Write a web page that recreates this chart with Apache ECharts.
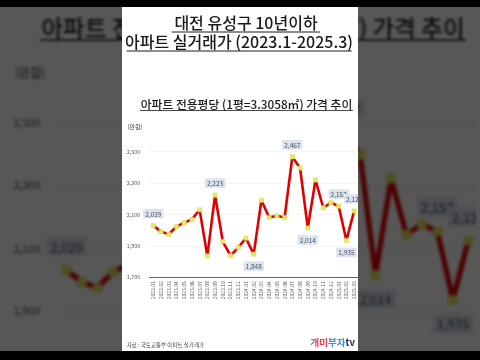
<!DOCTYPE html>
<html><head><meta charset="utf-8">
<script src="https://cdn.jsdelivr.net/npm/echarts@6/dist/echarts.min.js"></script>
<style>
html,body{margin:0;padding:0;width:480px;height:360px;overflow:hidden;background:#fff;}
#bg{position:absolute;left:122px;top:7px;width:236px;height:344px;transform:scale(2);transform-origin:118px 174px;filter:blur(0.6px);background:#fff;}
#dim{position:absolute;left:0;top:0;width:480px;height:360px;background:rgba(0,0,0,0.66);}
#fg{position:absolute;left:122px;top:7px;width:236px;height:344px;background:#fff;}
.bar{position:absolute;left:0;width:480px;background:#000;}
</style></head>
<body>
<div id="bg"></div><div id="dim"></div><div id="fg"></div>
<div class="bar" style="top:0;height:7px"></div>
<div class="bar" style="top:351px;height:9px"></div>
<script>
const categories = ['2023.01','2023.02','2023.03','2023.04','2023.05','2023.06','2023.07','2023.08','2023.09','2023.10','2023.11','2023.12',
  '2024.01','2024.02','2024.03','2024.04','2024.05','2024.06','2024.07','2024.08','2024.09','2024.10','2024.11','2024.12',
  '2025.01','2025.02','2025.03'];
const prices = [2029,1991,1974,2023,2048,2069,2130,1836,2223,1928,1838,1890,1949,1848,2191,2081,2092,2081,2467,2396,2014,2320,2143,2175,2153,1935,2123];
const labeledMonths = ['2023.01','2023.09','2024.02','2024.07','2024.09','2025.01','2025.02','2025.03'];
const labelBelowMonths = ['2024.02','2024.09','2025.02'];
const yTicks = [1700, 1900, 2100, 2300, 2500];

const titleLine1 = '대전 유성구 10년이하';
const titleLine2 = '아파트 실거래가 (2023.1-2025.3)';
const subTitle = '아파트 전용평당 (1평=3.3058㎡) 가격 추이';
const unitText = '(만원)';
const sourceText = '자료 : 국토교통부 아파트 실거래가';

const FONT = "'Noto Sans CJK KR','Noto Sans',sans-serif";
const fmt = v => Number(v).toLocaleString('en-US');
// label placement tweaks (style only)
const labelShift = { '2023.01': [7, -1], '2023.09': [9, 0], '2024.02': [7, 0], '2024.07': [4, 0], '2024.09': [5, 2], '2025.01': [-2, -8], '2025.02': [0, 2], '2025.03': [-7, 0] };

function buildOption() {
  const data = prices.map((v, i) => {
    const m = categories[i];
    if (labeledMonths.indexOf(m) < 0) return v;
    const below = labelBelowMonths.indexOf(m) >= 0;
    return { value: v, label: { show: true, position: below ? 'bottom' : 'top', distance: 5, offset: labelShift[m] || [0, 0] } };
  });
  return {
    animation: false,
    backgroundColor: '#ffffff',
    textStyle: { fontFamily: FONT },
    grid: { left: 27.4, right: 0, top: 144.7, bottom: 73.7, containLabel: false },
    xAxis: {
      type: 'category', data: categories, boundaryGap: true,
      axisLine: { lineStyle: { color: '#b8405e', width: 1 } },
      axisTick: { show: false },
      axisLabel: { rotate: 90, fontSize: 5, color: '#595959', margin: 4, interval: 0, fontFamily: FONT }
    },
    yAxis: {
      type: 'value', min: yTicks[0], max: yTicks[yTicks.length - 1], interval: yTicks[1] - yTicks[0],
      axisLine: { show: false }, axisTick: { show: false },
      splitLine: { lineStyle: { color: '#ececec', width: 0.6 } },
      axisLabel: { fontSize: 5.5, color: '#595959', margin: 9, formatter: fmt, fontFamily: FONT }
    },
    series: [{
      type: 'line', data: data,
      lineStyle: { color: '#e00000', width: 2.6 },
      symbol: 'rect', symbolSize: 4.2, showAllSymbol: true,
      itemStyle: { color: '#e9e863', borderColor: '#d4d44a', borderWidth: 0.5 },
      label: {
        show: false, formatter: p => fmt(p.value), fontSize: 6.5, color: '#44546a',
        backgroundColor: '#dde3ec', padding: [2, 2, 1, 2], fontFamily: FONT
      },
      labelLayout: { hideOverlap: false },
      z: 3
    }],
    graphic: { elements: [
      { type: 'text', x: 124, y: 15.8, style: { text: titleLine1, fontSize: 16, fontWeight: 500, fontFamily: FONT, fill: '#1a1a1a', align: 'center', verticalAlign: 'middle' } },
      { type: 'line', shape: { x1: 49.7, y1: 25, x2: 198, y2: 25 }, style: { stroke: '#1a1a1a', lineWidth: 1 } },
      { type: 'text', x: 117, y: 34.5, style: { text: titleLine2, fontSize: 16, fontWeight: 500, fontFamily: FONT, fill: '#1a1a1a', align: 'center', verticalAlign: 'middle' } },
      { type: 'line', shape: { x1: 4.7, y1: 44, x2: 229.7, y2: 44 }, style: { stroke: '#1a1a1a', lineWidth: 1 } },
      { type: 'text', x: 124.5, y: 97.5, style: { text: subTitle, fontSize: 11.8, fontWeight: 500, fontFamily: FONT, fill: '#1a1a1a', align: 'center', verticalAlign: 'middle' } },
      { type: 'line', shape: { x1: 18, y1: 103.5, x2: 231, y2: 103.5 }, style: { stroke: '#1a1a1a', lineWidth: 0.8 } },
      { type: 'text', x: 13, y: 119.5, style: { text: unitText, fontSize: 6, fontFamily: FONT, fill: '#404040', align: 'center', verticalAlign: 'middle' } },
      { type: 'text', x: 4.7, y: 338, style: { text: sourceText, fontSize: 5.5, fontFamily: FONT, fill: '#404040', align: 'left', verticalAlign: 'middle' } },
      { type: 'text', x: 233, y: 335, style: { text: '{a|개미}{b|부자}{c|tv}', align: 'right', verticalAlign: 'middle',
          rich: {
            a: { fontSize: 9.5, fontWeight: 'bold', fontFamily: FONT, fill: '#e8405a', color: '#e8405a' },
            b: { fontSize: 9.5, fontWeight: 'bold', fontFamily: FONT, fill: '#3a8fd6', color: '#3a8fd6' },
            c: { fontSize: 9.5, fontWeight: 'bold', fontFamily: FONT, fill: '#1d2d50', color: '#1d2d50' }
          } } }
    ] }
  };
}

const bgChart = echarts.init(document.getElementById('bg'), null, { renderer: 'canvas', devicePixelRatio: 1 });
bgChart.setOption(buildOption());
const fgChart = echarts.init(document.getElementById('fg'), null, { renderer: 'canvas', devicePixelRatio: 1 });
fgChart.setOption(buildOption());
</script>
</body></html>
